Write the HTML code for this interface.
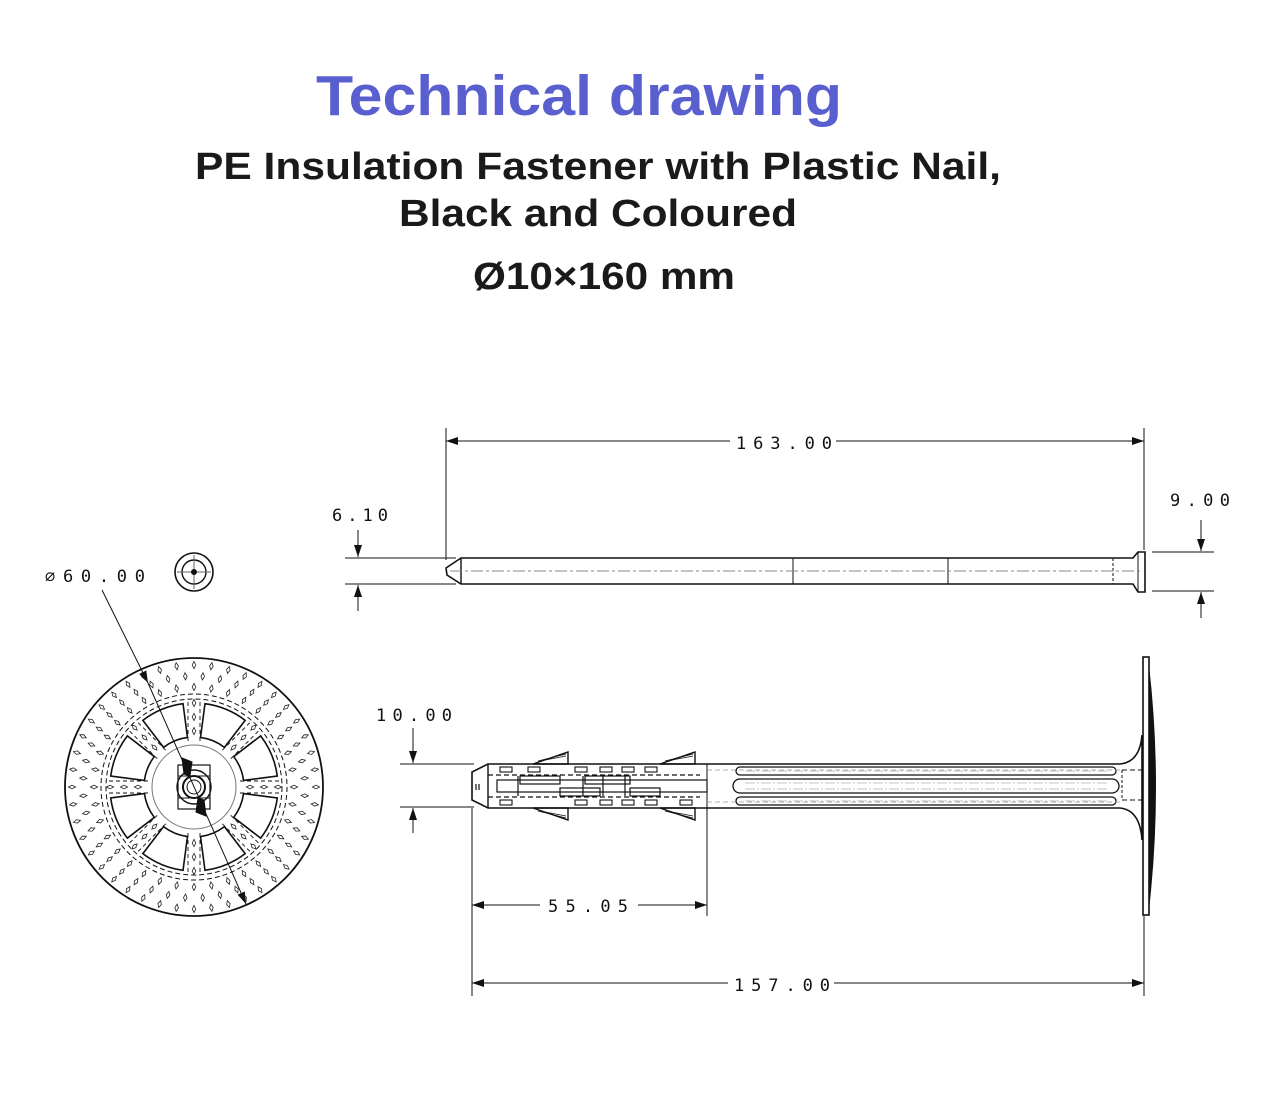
<!DOCTYPE html>
<html><head><meta charset="utf-8"><style>
html,body{margin:0;padding:0;background:#fff;}
svg{display:block;font-family:"Liberation Sans",sans-serif;}
.t{font-family:"Liberation Sans",sans-serif;font-weight:bold;}
.d{font-family:"DejaVu Sans Mono","Liberation Mono",monospace;font-size:17px;fill:#111;letter-spacing:0;}
</style></head><body>
<svg id="s" width="1263" height="1108" viewBox="0 0 1263 1108" xmlns="http://www.w3.org/2000/svg">
<defs>
<marker id="a" markerWidth="12" markerHeight="8" refX="12" refY="4" orient="auto" markerUnits="userSpaceOnUse"><path d="M0,0 L12,4 L0,8 z" fill="#111"/></marker>
</defs>
<text class="t" x="316" y="115" font-size="57" fill="#5a5fd0" textLength="526" lengthAdjust="spacingAndGlyphs">Technical drawing</text>
<text class="t" x="195" y="179" font-size="38" fill="#1a1a1a" textLength="806" lengthAdjust="spacingAndGlyphs">PE Insulation Fastener with Plastic Nail,</text>
<text class="t" x="399" y="226" font-size="38" fill="#1a1a1a" textLength="398" lengthAdjust="spacingAndGlyphs">Black and Coloured</text>
<text class="t" x="473" y="289" font-size="38" fill="#1a1a1a" textLength="262" lengthAdjust="spacingAndGlyphs">Ø10×160 mm</text>

<g stroke="#111" fill="none" stroke-width="1">
<path d="M461,558 L1133,558 L1138,552 L1145,552 L1145,592 L1138,592 L1133,584 L461,584 L447,575 L446,568 Z" stroke-width="1.6"/>
<line x1="461" y1="558" x2="461" y2="584" stroke-width="1.4"/>
<line x1="793" y1="558" x2="793" y2="584"/>
<line x1="948" y1="558" x2="948" y2="584"/>
<line x1="1113" y1="558" x2="1113" y2="584" stroke-dasharray="3,2"/>
<line x1="1138" y1="552" x2="1138" y2="592"/>
<line x1="450" y1="571" x2="1140" y2="571" stroke="#888" stroke-dasharray="12,3,3,3"/>
<line x1="446" y1="428" x2="446" y2="560"/>
<line x1="1144" y1="428" x2="1144" y2="550"/>
<line x1="730" y1="441" x2="446" y2="441" marker-end="url(#a)"/>
<line x1="836" y1="441" x2="1144" y2="441" marker-end="url(#a)"/>
<line x1="345" y1="558" x2="456" y2="558"/>
<line x1="345" y1="584" x2="456" y2="584"/>
<line x1="358" y1="530" x2="358" y2="557" marker-end="url(#a)"/>
<line x1="358" y1="611" x2="358" y2="585" marker-end="url(#a)"/>
<line x1="1152" y1="552" x2="1214" y2="552"/>
<line x1="1152" y1="591" x2="1214" y2="591"/>
<line x1="1201" y1="520" x2="1201" y2="551" marker-end="url(#a)"/>
<line x1="1201" y1="618" x2="1201" y2="592" marker-end="url(#a)"/>

<circle cx="194" cy="572" r="19" stroke-width="1.6"/>
<circle cx="194" cy="572" r="12" stroke-width="1.4"/>
<line x1="177" y1="572" x2="211" y2="572" stroke="#666"/>
<line x1="194" y1="555" x2="194" y2="589" stroke="#666"/>
<circle cx="194" cy="572" r="2.5" fill="#111"/>

<circle cx="194" cy="787" r="129" stroke-width="1.8"/>
<circle cx="194" cy="787" r="93" stroke-dasharray="5,3"/>
<circle cx="194" cy="787" r="88" stroke-dasharray="5,3"/>
<circle cx="194" cy="787" r="42" stroke="#777"/>
<g id="win"></g>
<g id="dots" stroke-width="0.8"></g>
<circle cx="194" cy="787" r="17" stroke-width="1.4"/>
<circle cx="194" cy="787" r="11" stroke-width="2"/>
<circle cx="194" cy="787" r="7"/>
<rect x="178" y="765" width="32" height="44" stroke-width="1.2"/>
<line x1="178" y1="776" x2="210" y2="776"/><line x1="178" y1="798" x2="210" y2="798"/>
<path d="M182,758 L192,762 L190,776 L184,774 Z" fill="#111"/>
<path d="M206,816 L196,812 L198,798 L204,800 Z" fill="#111"/>
<line x1="102" y1="590" x2="148" y2="683" marker-end="url(#a)"/>
<line x1="148" y1="683" x2="246" y2="904" marker-end="url(#a)"/>

<path d="M488,764 L1120,764 Q1140,762 1142,735 L1142,840 Q1140,810 1120,808 L488,808 L472,800 L472,772 Z" stroke-width="1.6"/>
<line x1="488" y1="764" x2="488" y2="808" stroke-width="1.4"/>
<line x1="707" y1="764" x2="707" y2="808"/>
<rect x="1143" y="657" width="6" height="258" stroke-width="1.6"/>
<path d="M1149,665 Q1163,787 1149,910 Z" fill="#111" stroke="none"/>
<g stroke-width="1.2">
<line x1="488" y1="775" x2="700" y2="775" stroke-dasharray="5,3"/>
<line x1="488" y1="797" x2="700" y2="797" stroke-dasharray="5,3"/>
<rect x="497" y="780" width="210" height="12"/>
<rect x="520" y="776" width="40" height="8"/><rect x="560" y="788" width="40" height="8"/>
<rect x="585" y="776" width="45" height="8"/><rect x="630" y="788" width="30" height="8"/>
<line x1="518" y1="776" x2="518" y2="796"/><line x1="583" y1="776" x2="583" y2="796"/>
<line x1="603" y1="776" x2="603" y2="796"/><line x1="625" y1="776" x2="625" y2="796"/>
<line x1="476" y1="784" x2="476" y2="790"/><line x1="479" y1="784" x2="479" y2="790"/>
</g>
<g id="teeth" stroke-width="1.1"></g>
<path d="M533,764 L568,752 L568,764 Z" stroke-width="1.4"/>
<path d="M660,764 L695,752 L695,764 Z" stroke-width="1.4"/>
<path d="M533,808 L568,820 L568,808 Z" stroke-width="1.4"/>
<path d="M660,808 L695,820 L695,808 Z" stroke-width="1.4"/>
<path d="M538,761 L566,754 M545,760 L566,756 M538,811 L566,818 M545,812 L566,816 M665,761 L693,754 M672,760 L693,756 M665,811 L693,818 M672,812 L693,816" stroke-width="0.8"/>
<g stroke-width="1.3">
<path d="M740,767 L1112,767 A4,4 0 0 1 1112,775 L740,775 A4,4 0 0 1 740,767 Z"/>
<path d="M740,779 L1112,779 A7,7 0 0 1 1112,793 L740,793 A7,7 0 0 1 740,779 Z"/>
<path d="M740,797 L1112,797 A4,4 0 0 1 1112,805 L740,805 A4,4 0 0 1 740,797 Z"/>
</g>
<path d="M745,771 L1108,771 M745,783 L1108,783 M745,789 L1108,789 M745,801 L1108,801" stroke="#888" stroke-width="0.6" stroke-dasharray="10,2,2,2"/>
<line x1="1122" y1="770" x2="1142" y2="770" stroke-dasharray="5,3"/>
<line x1="1122" y1="800" x2="1142" y2="800" stroke-dasharray="5,3"/>
<line x1="1122" y1="770" x2="1122" y2="800" stroke-dasharray="3,2"/>
<line x1="707" y1="770" x2="1120" y2="770" stroke="#999" stroke-dasharray="5,3" stroke-width="0.7"/>
<line x1="707" y1="802" x2="1120" y2="802" stroke="#999" stroke-dasharray="5,3" stroke-width="0.7"/>
<line x1="400" y1="764" x2="474" y2="764"/>
<line x1="400" y1="807" x2="474" y2="807"/>
<line x1="413" y1="728" x2="413" y2="763" marker-end="url(#a)"/>
<line x1="413" y1="833" x2="413" y2="808" marker-end="url(#a)"/>
<line x1="472" y1="808" x2="472" y2="996"/>
<line x1="707" y1="808" x2="707" y2="916"/>
<line x1="1144" y1="916" x2="1144" y2="996"/>
<line x1="540" y1="905" x2="472" y2="905" marker-end="url(#a)"/>
<line x1="638" y1="905" x2="707" y2="905" marker-end="url(#a)"/>
<line x1="728" y1="983" x2="472" y2="983" marker-end="url(#a)"/>
<line x1="834" y1="983" x2="1144" y2="983" marker-end="url(#a)"/>
</g>

<text class="d" x="736" y="449" textLength="96">163.00</text>
<text class="d" x="332" y="521" textLength="56">6.10</text>
<text class="d" x="1170" y="506" textLength="60">9.00</text>
<text class="d" x="45" y="582" textLength="100">∅60.00</text>
<text class="d" x="376" y="721" textLength="76">10.00</text>
<text class="d" x="548" y="912" textLength="80">55.05</text>
<text class="d" x="734" y="991" textLength="96">157.00</text>
</svg>
<script>
var NS="http://www.w3.org/2000/svg",cx=194,cy=787;
function el(t,a,p){var e=document.createElementNS(NS,t);for(var k in a)e.setAttribute(k,a[k]);p.appendChild(e);return e;}
var win=document.getElementById('win'),dots=document.getElementById('dots');
function P(r,a){return [cx+r*Math.cos(a),cy+r*Math.sin(a)];}
for(var k=0;k<8;k++){
 var c=(22.5+45*k)*Math.PI/180,h=15*Math.PI/180;
 var a1=c-h,a2=c+h,r1=50,r2=84;
 var p1=P(r1,a1),p2=P(r2,a1),p3=P(r2,a2),p4=P(r1,a2);
 el('path',{d:'M'+p1+' L'+p2+' A'+r2+','+r2+' 0 0 1 '+p3+' L'+p4+' A'+r1+','+r1+' 0 0 0 '+p1+' Z',stroke:'#111','stroke-width':1.6,fill:'#fff'},win);
 var s=45*k*Math.PI/180;
 [-1,1].forEach(function(sg){var o=sg*6;var q1=[cx+46*Math.cos(s)-o*Math.sin(s),cy+46*Math.sin(s)+o*Math.cos(s)],q2=[cx+88*Math.cos(s)-o*Math.sin(s),cy+88*Math.sin(s)+o*Math.cos(s)];
 el('line',{x1:q1[0],y1:q1[1],x2:q2[0],y2:q2[1],stroke:'#111','stroke-dasharray':'4,3','stroke-width':0.9},win);});
}
function dia(x,y,ang,p){var w=1.8,l=3.6;var ca=Math.cos(ang),sa=Math.sin(ang);
 var pts=[[l,0],[0,w],[-l,0],[0,-w]].map(function(q){return (x+q[0]*ca-q[1]*sa)+','+(y+q[0]*sa+q[1]*ca)}).join(' ');
 el('polygon',{points:pts,stroke:'#222',fill:'none'},p);}
[[100,36],[111,40],[122,44]].forEach(function(rr,i){
 var r=rr[0],n=rr[1];
 for(var j=0;j<n;j++){var a=(j+(i%2)*0.5)/n*2*Math.PI;var p=P(r,a);dia(p[0],p[1],a,dots);}
});
for(var k=0;k<8;k++){var s=45*k*Math.PI/180;for(var r=56;r<=84;r+=14){var p=P(r,s);dia(p[0],p[1],s,dots);}}
var t=document.getElementById('teeth');
[[500,767],[528,767],[575,767],[600,767],[622,767],[645,767],[500,800],[575,800],[600,800],[622,800],[645,800],[680,800]].forEach(function(q){el('rect',{x:q[0],y:q[1],width:12,height:5,stroke:'#111',fill:'none'},t);});
</script>
</body></html>
